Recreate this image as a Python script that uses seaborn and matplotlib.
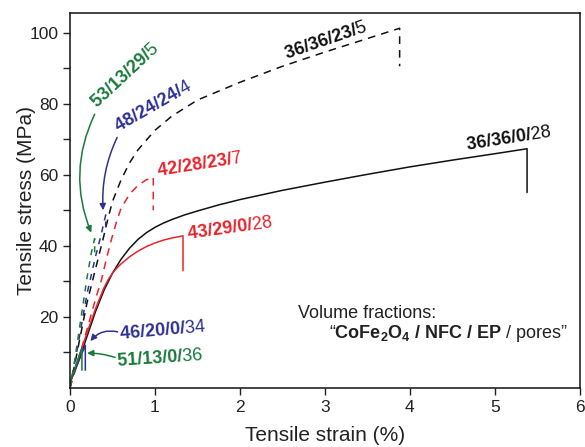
import numpy as np
import pandas as pd
import matplotlib
matplotlib.use("Agg")
import matplotlib.pyplot as plt
import seaborn as sns

# ---- data ----
black_solid_x = [0, 0.1, 0.2, 0.3, 0.4, 0.5, 0.6, 0.7, 0.8, 0.9, 1.0, 1.1, 1.2, 1.35, 1.5,
                 1.75, 2.0, 2.5, 3.0, 3.5, 4.0, 4.5, 5.0, 5.38, 5.38]
black_solid_y = [1.5, 7.5, 14.5, 21.5, 27.5, 32.3, 36.2, 39.3, 41.8, 43.7, 45.2, 46.4, 47.4, 48.7, 49.8,
                 51.5, 53, 55.6, 57.9, 60.1, 62.2, 64.1, 65.9, 67.3, 55]

red_solid_x = [0, 0.1, 0.2, 0.3, 0.4, 0.45, 0.5, 0.55, 0.6, 0.7, 0.8, 0.9, 1.0, 1.1, 1.2, 1.33, 1.33]
red_solid_y = [1.5, 8.5, 15.5, 22.3, 28.2, 30.5, 32.3, 33.7, 34.9, 36.9, 38.5, 39.8, 40.8, 41.6, 42.2, 42.8, 33]

black_dash_x = [0, 0.1, 0.2, 0.3, 0.39, 0.45, 0.5, 0.6, 0.7, 0.8, 1.0, 1.2, 1.5, 2.0, 2.5, 3.0, 3.5, 3.88, 3.88]
black_dash_y = [0, 12, 24, 33.5, 42, 48, 52.5, 58.5, 63.3, 67, 72.5, 76.5, 81, 86, 90.5, 94.5, 98.3, 101.2, 90.5]

red_dash_x = [0, 0.1, 0.2, 0.3, 0.37, 0.43, 0.49, 0.55, 0.6, 0.7, 0.8, 0.9, 0.98, 0.98]
red_dash_y = [0, 8, 16.5, 25, 30.4, 36.5, 42, 47, 50.5, 54.5, 57, 58.6, 59.3, 50]

blue_dash_x = [0, 0.1, 0.2, 0.3, 0.36, 0.42, 0.42]
blue_dash_y = [0, 13, 26.5, 37, 42.5, 48.7, 44]

green_dash_x = [0, 0.05, 0.1, 0.15, 0.2, 0.25, 0.29, 0.29]
green_dash_y = [0, 7, 15, 23, 31, 38, 42, 37.5]

blue_solid_x = [0, 0.05, 0.1, 0.15, 0.18, 0.18]
blue_solid_y = [1.5, 4.5, 7.5, 10.3, 12, 5]

green_solid_x = [0, 0.05, 0.1, 0.14, 0.14]
green_solid_y = [1.5, 5, 8.5, 11.3, 5]

GREEN = "#1a7a3c"
BLUE = "#2e3192"
RED = "#e8242b"
BLACK = "#111111"

curves = [
    ("36/36/0/28", black_solid_x, black_solid_y, BLACK, "-"),
    ("43/29/0/28", red_solid_x, red_solid_y, RED, "-"),
    ("36/36/23/5", black_dash_x, black_dash_y, BLACK, (0, (5, 4))),
    ("42/28/23/7", red_dash_x, red_dash_y, RED, (0, (5, 4))),
    ("48/24/24/4", blue_dash_x, blue_dash_y, BLUE, (0, (4, 4))),
    ("53/13/29/5", green_dash_x, green_dash_y, GREEN, (0, (4, 4))),
    ("46/20/0/34", blue_solid_x, blue_solid_y, BLUE, "-"),
    ("51/13/0/36", green_solid_x, green_solid_y, GREEN, "-"),
]

sns.set_theme(style="ticks")
plt.rcParams["font.family"] = ["Liberation Sans", "DejaVu Sans"]
plt.rcParams["mathtext.fontset"] = "custom"
plt.rcParams["mathtext.rm"] = "Liberation Sans"
plt.rcParams["mathtext.bf"] = "Liberation Sans:bold"
plt.rcParams["mathtext.it"] = "Liberation Sans:italic"

fig = plt.figure(figsize=(5.85, 4.47), dpi=100)
ax = fig.add_axes([0.1197, 0.132, 0.8713, 0.839])

for name, xs, ys, col, ls in curves:
    df = pd.DataFrame({"strain": xs, "stress": ys})
    sns.lineplot(data=df, x="strain", y="stress", sort=False, estimator=None,
                 color=col, linewidth=1.1, ax=ax, linestyle=ls)

ax.set_xlim(0, 6)
ax.set_ylim(0, 105.5)
ax.set_xticks(range(0, 7))
ax.set_yticks([20, 40, 60, 80, 100])
ax.set_yticks([10, 30, 50, 70, 90], minor=True)
ax.tick_params(axis="both", which="both", direction="out", length=5, width=1.0,
               colors="#222222", labelsize=12.5, labelcolor="#222222")
for s in ax.spines.values():
    s.set_linewidth(1.1)
    s.set_color("#111111")
ax.set_xlabel("Tensile strain (%)", fontsize=15, color="#222222", labelpad=8)
ax.set_ylabel("Tensile stress (MPa)", fontsize=15, color="#222222")
ax.yaxis.set_label_coords(-0.066, 0.5)

fs = 13
def lab(x, y, bold, normal, col, rot):
    ax.text(x, y, r"$\mathbf{" + bold + "}$" + normal, color=col, fontsize=fs,
            rotation=rot, rotation_mode="anchor", ha="left", va="baseline")

lab(0.31, 78.5, "53/13/29/", "5", GREEN, 43)
lab(0.57, 72.0, "48/24/24/", "4", BLUE, 30)
lab(2.55, 92.5, "36/36/23/", "5", BLACK, 19)
lab(4.67, 67.0, "36/36/0/", "28", BLACK, 9)
lab(1.03, 59.5, "42/28/23/", "7", RED, 9)
lab(1.39, 42.0, "43/29/0/", "28", RED, 8)
lab(0.59, 13.8, "46/20/0/", "34", BLUE, 5)
lab(0.55, 6.2, "51/13/0/", "36", GREEN, 4)

def arr(x0, y0, x1, y1, col, rad):
    ax.annotate("", xy=(x1, y1), xytext=(x0, y0),
                arrowprops=dict(arrowstyle="-|>", color=col, lw=1.1,
                                mutation_scale=9, shrinkA=0, shrinkB=0,
                                connectionstyle=f"arc3,rad={rad}"))

arr(0.29, 77.0, 0.25, 43.7, GREEN, 0.22)
arr(0.555, 70.5, 0.39, 50.0, BLUE, 0.13)
arr(0.56, 15.8, 0.24, 13.2, BLUE, 0.3)
arr(0.53, 8.6, 0.20, 9.8, GREEN, 0.08)

ax.text(2.68, 19.7, "Volume fractions:", fontsize=fs, color="#222222",
        ha="left", va="baseline")
ax.text(3.05, 14.1, "\u201c" + r"$\mathbf{CoFe_2O_4\ /\ NFC\ /\ EP}$" + " / pores\u201d",
        fontsize=fs, color="#222222", ha="left", va="baseline")

fig.savefig("out.png", dpi=100)
